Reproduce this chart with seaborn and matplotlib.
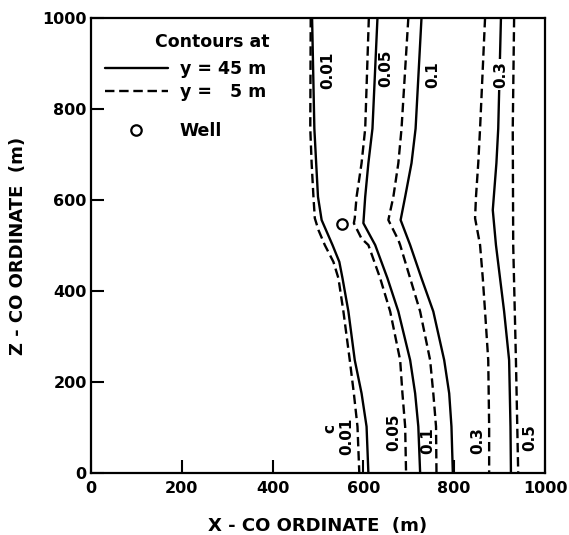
import matplotlib
matplotlib.use("Agg")
import matplotlib.pyplot as plt
from matplotlib.lines import Line2D
import pandas as pd
import seaborn as sns

# Relative concentration contours: x position (m) of each contour against depth z (m).
# Solid = plane y = 45 m, dashed = plane y = 5 m.
c001_y45_z = [1000, 757, 681, 607, 556, 501, 464, 428, 355, 248, 175, 102, 0]
c001_y45_x = [487, 492, 496, 500, 508, 532, 547, 554, 567, 581, 596, 607, 611]
c001_y5_z = [1000, 757, 681, 607, 560, 534, 501, 464, 428, 355, 248, 175, 102, 0]
c001_y5_x = [484, 483, 486, 490, 493, 501, 515, 534, 545, 556, 570, 579, 587, 591]

c005_y45_z = [1000, 757, 681, 607, 549, 501, 428, 355, 248, 175, 102, 0]
c005_y45_x = [631, 620, 611, 604, 600, 626, 653, 677, 703, 714, 721, 725]
c005_y5_z = [1000, 757, 681, 607, 560, 549, 515, 501, 428, 355, 248, 175, 102, 0]
c005_y5_x = [612, 604, 596, 585, 581, 579, 596, 611, 637, 659, 681, 686, 692, 694]

c01_y45_z = [1000, 757, 681, 607, 556, 501, 428, 355, 248, 175, 102, 0]
c01_y45_x = [728, 715, 706, 692, 682, 703, 728, 754, 778, 789, 794, 797]
c01_y5_z = [1000, 757, 681, 607, 556, 512, 501, 428, 355, 248, 175, 102, 0]
c01_y5_x = [699, 684, 677, 666, 655, 677, 681, 703, 725, 747, 754, 760, 761]

c03_y45_z = [1000, 757, 681, 578, 501, 428, 355, 248, 102, 0]
c03_y45_x = [903, 897, 893, 885, 892, 901, 910, 921, 924, 925]
c03_y5_z = [1000, 757, 681, 607, 560, 501, 428, 355, 248, 175, 102, 0]
c03_y5_x = [868, 857, 853, 848, 846, 857, 863, 868, 875, 876, 877, 877]

c05_y5_z = [1000, 757, 501, 248, 0]
c05_y5_x = [932, 929, 930, 936, 941]

well_x = [553]
well_z = [547]

# Contour labels: text, x, z
top_labels = [("0.01", 521, 886), ("0.05", 650, 890), ("0.1", 753, 875), ("0.3", 903, 875)]
bottom_labels = [("c", 526, 97), ("0.01", 563, 80), ("0.05", 667, 89),
                 ("0.1", 741, 72), ("0.3", 851, 72), ("0.5", 967, 77)]

x_ticks = [0, 200, 400, 600, 800, 1000]
z_ticks = [0, 200, 400, 600, 800, 1000]

curves = [
    ("0.01", "y = 45 m", c001_y45_z, c001_y45_x),
    ("0.01", "y = 5 m", c001_y5_z, c001_y5_x),
    ("0.05", "y = 45 m", c005_y45_z, c005_y45_x),
    ("0.05", "y = 5 m", c005_y5_z, c005_y5_x),
    ("0.1", "y = 45 m", c01_y45_z, c01_y45_x),
    ("0.1", "y = 5 m", c01_y5_z, c01_y5_x),
    ("0.3", "y = 45 m", c03_y45_z, c03_y45_x),
    ("0.3", "y = 5 m", c03_y5_z, c03_y5_x),
    ("0.5", "y = 5 m", c05_y5_z, c05_y5_x),
]
rows = []
for level, plane, zs, xs in curves:
    for i, (z, x) in enumerate(zip(zs, xs)):
        rows.append({"curve": f"{level} {plane}", "plane": plane, "z": z, "x": x, "i": i})
df = pd.DataFrame(rows)

sns.set_style("ticks")
plt.rcParams["font.family"] = ["DejaVu Sans"]
plt.rcParams["font.weight"] = "bold"
plt.rcParams["text.color"] = "black"
plt.rcParams["axes.labelcolor"] = "black"
plt.rcParams["xtick.color"] = "black"
plt.rcParams["ytick.color"] = "black"

fig = plt.figure(figsize=(5.69, 5.35), dpi=100)
ax = fig.add_axes([0.1599, 0.1159, 0.7979, 0.8505])

lw = 1.7
sns.lineplot(data=df, x="x", y="z", hue="curve", style="plane",
             palette={c: "black" for c in df["curve"].unique()},
             dashes={"y = 45 m": "", "y = 5 m": (4, 2)},
             sort=False, estimator=None, orient="y", linewidth=lw,
             legend=False, ax=ax)

ax.plot(well_x, well_z, "o", mfc="white", mec="black", mew=1.6, ms=7.5, zorder=5)

for txt, x, z in top_labels:
    kw = {}
    if txt == "0.3":
        kw["bbox"] = dict(facecolor="white", edgecolor="none", pad=1.5)
    ax.text(x, z, txt, rotation=90, ha="center", va="center", color="black",
            fontsize=11, fontweight="bold", zorder=6, **kw)
for txt, x, z in bottom_labels:
    ax.text(x, z, txt, rotation=90, ha="center", va="center", color="black",
            fontsize=11, fontweight="bold", zorder=6)

ax.set_xlim(0, 1000)
ax.set_ylim(0, 1000)
ax.set_xticks(x_ticks)
ax.set_yticks(z_ticks)
ax.tick_params(direction="in", length=9.5, width=1.5, labelsize=11.5,
               colors="black", labelcolor="black")
ax.tick_params(axis="x", pad=6)
ax.tick_params(axis="y", pad=3)
for lab in ax.get_xticklabels() + ax.get_yticklabels():
    lab.set_fontweight("bold")
for sp in ax.spines.values():
    sp.set_visible(True)
    sp.set_linewidth(1.6)
    sp.set_color("black")

ax.set_xlabel("X - CO ORDINATE  (m)", fontsize=13, fontweight="bold",
              labelpad=15, color="black")
ax.set_ylabel("Z - CO ORDINATE  (m)", fontsize=13, fontweight="bold",
              labelpad=11, color="black")

# Legend
ax.text(0.141, 0.948, "Contours at", transform=ax.transAxes, ha="left", va="center",
        fontsize=12.5, fontweight="bold", color="black")
line_handles = [Line2D([], [], color="black", lw=lw),
                Line2D([], [], color="black", lw=lw, dashes=(4, 2))]
leg1 = ax.legend(line_handles, ["y = 45 m", "y =   5 m"], loc="upper left",
                 bbox_to_anchor=(0.031, 0.908), frameon=False, borderpad=0,
                 borderaxespad=0, handlelength=3.6, handletextpad=0.7,
                 labelspacing=0.3, labelcolor="black",
                 prop={"size": 12.5, "weight": "bold"})
ax.add_artist(leg1)
well_handle = [Line2D([], [], ls="none", marker="o", mfc="white", mec="black",
                      mew=1.6, ms=7.5)]
ax.legend(well_handle, ["Well"], loc="upper left", bbox_to_anchor=(0.031, 0.771),
          frameon=False, borderpad=0, borderaxespad=0, handlelength=3.6,
          handletextpad=0.7, labelcolor="black",
          prop={"size": 12.5, "weight": "bold"})

fig.savefig("out.png", dpi=100, facecolor="white")
